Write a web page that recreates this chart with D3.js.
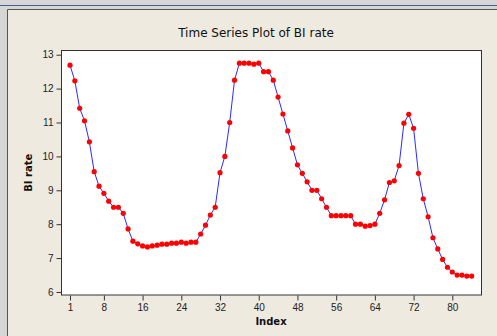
<!DOCTYPE html>
<html>
<head>
<meta charset="utf-8">
<script src="https://cdn.jsdelivr.net/npm/d3@7"></script>
<style>
    html, body { margin: 0; padding: 0; background: #d6d6d6; }
    svg { display: block; }
</style>
</head>
<body>
<div class="chart-container"></div>
<script>
// Data.
const biRate = [
    12.69, 12.23, 11.42, 11.05, 10.43, 9.55, 9.12, 8.91, 8.68, 8.50,
    8.50, 8.32, 7.86, 7.50, 7.42, 7.36, 7.33, 7.36, 7.38, 7.41,
    7.41, 7.44, 7.44, 7.47, 7.44, 7.47, 7.47, 7.71, 7.97, 8.27,
    8.50, 9.52, 10.00, 11.00, 12.25, 12.75, 12.75, 12.75, 12.72, 12.75,
    12.50, 12.50, 12.25, 11.75, 11.25, 10.75, 10.25, 9.75, 9.50, 9.25,
    9.00, 9.00, 8.75, 8.50, 8.25, 8.25, 8.25, 8.25, 8.25, 8.00,
    8.00, 7.94, 7.96, 8.00, 8.32, 8.72, 9.23, 9.28, 9.73, 10.98,
    11.24, 10.83, 9.50, 8.75, 8.22, 7.60, 7.27, 6.96, 6.73, 6.59,
    6.50, 6.50, 6.47, 6.47
];
const index = biRate.map((v, i) => i + 1);
const xTicks = [1, 8, 16, 24, 32, 40, 48, 56, 64, 72, 80];
const yTicks = [6, 7, 8, 9, 10, 11, 12, 13];

const width = 497;
const height = 336;
const plot = {left: 61, right: 481, top: 50.5, bottom: 295};

const svg = d3
    .select('.chart-container')
    .append('svg')
    .attr('width', width)
    .attr('height', height);

// Window frame.
svg.append('line')
    .attr('x1', 0).attr('x2', width)
    .attr('y1', 5.5).attr('y2', 5.5)
    .attr('stroke', '#4a5c94');
svg.append('rect')
    .attr('x', 7).attr('y', 9)
    .attr('width', width - 7).attr('height', height - 9)
    .attr('fill', '#eeeae0');
svg.append('path')
    .attr('d', `M7.5,${height}V9.5H${width}`)
    .attr('fill', 'none')
    .attr('stroke', '#555');

// Scales
const xScale = d3.scaleLinear()
    .domain([-0.86, 85.93])
    .range([plot.left, plot.right]);
const yScale = d3.scaleLinear()
    .domain([5.911, 13.124])
    .range([plot.bottom, plot.top]);

// Plot area.
svg.append('rect')
    .attr('x', plot.left + 0.5)
    .attr('y', plot.top)
    .attr('width', plot.right - plot.left)
    .attr('height', plot.bottom - plot.top)
    .attr('fill', '#fff')
    .attr('stroke', '#333');

const axisX = d3.axisBottom(xScale)
    .tickValues(xTicks)
    .tickSize(5)
    .tickSizeOuter(0)
    .tickPadding(3);
const axisY = d3.axisLeft(yScale)
    .tickValues(yTicks)
    .tickSize(5)
    .tickSizeOuter(0)
    .tickPadding(3);

const gx = svg.append('g')
    .attr('transform', `translate(0, ${plot.bottom + 0.5})`)
    .call(axisX);
const gy = svg.append('g')
    .attr('transform', `translate(${plot.left + 0.5}, 0)`)
    .call(axisY);

[gx, gy].forEach(g => {
    g.select('.domain').remove();
    g.selectAll('line').attr('stroke', '#333');
    g.selectAll('text')
        .attr('fill', '#222')
        .style('font-family', '"Liberation Sans", Arial, sans-serif')
        .style('font-size', '10px');
});

// Line and points.
const line = d3.line()
    .x((d, i) => xScale(index[i]))
    .y(d => yScale(d));

svg.append('path')
    .datum(biRate)
    .attr('d', line)
    .attr('fill', 'none')
    .attr('stroke', '#2a2aff')
    .attr('stroke-width', 1);

svg.append('g')
    .selectAll('circle')
    .data(biRate)
    .enter()
    .append('circle')
    .attr('cx', (d, i) => xScale(index[i]))
    .attr('cy', d => yScale(d))
    .attr('r', 2.6)
    .attr('fill', '#ff0000');

// Titles.
svg.append('text')
    .attr('x', 256)
    .attr('y', 37)
    .attr('text-anchor', 'middle')
    .style('font-family', '"DejaVu Sans", sans-serif')
    .style('font-size', '12px')
    .attr('fill', '#111')
    .text('Time Series Plot of BI rate');

svg.append('text')
    .attr('x', (plot.left + plot.right) / 2)
    .attr('y', 325)
    .attr('text-anchor', 'middle')
    .style('font-family', '"DejaVu Sans", sans-serif')
    .style('font-size', '10px')
    .style('font-weight', 'bold')
    .attr('fill', '#111')
    .text('Index');

svg.append('text')
    .attr('transform', `translate(32, ${(plot.top + plot.bottom) / 2}) rotate(-90)`)
    .attr('text-anchor', 'middle')
    .style('font-family', '"DejaVu Sans", sans-serif')
    .style('font-size', '10px')
    .style('font-weight', 'bold')
    .attr('fill', '#111')
    .text('BI rate');
</script>
</body>
</html>
